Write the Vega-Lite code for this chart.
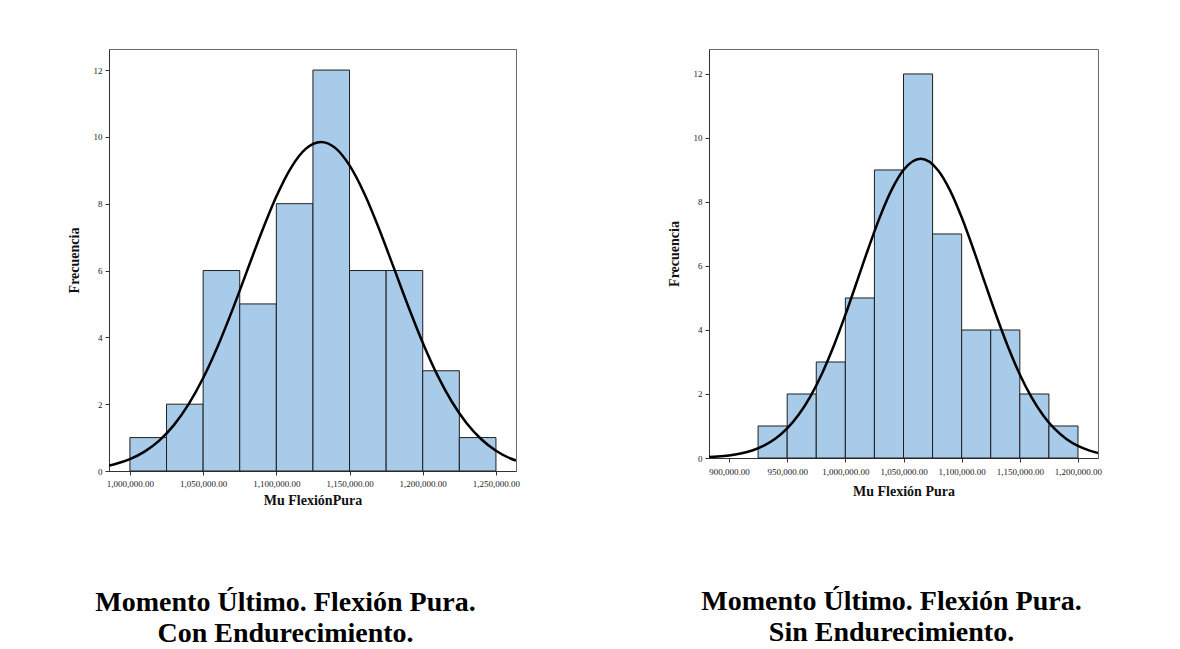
{
  "$schema": "https://vega.github.io/schema/vega-lite/v6.json",
  "background": "white",
  "padding": {"left": 66, "top": 48, "right": 0, "bottom": 0},
  "spacing": 145,
  "datasets": {
    "leftBars": [
      {"bin_start": 1000000, "bin_end": 1025000, "count": 1},
      {"bin_start": 1025000, "bin_end": 1050000, "count": 2},
      {"bin_start": 1050000, "bin_end": 1075000, "count": 6},
      {"bin_start": 1075000, "bin_end": 1100000, "count": 5},
      {"bin_start": 1100000, "bin_end": 1125000, "count": 8},
      {"bin_start": 1125000, "bin_end": 1150000, "count": 12},
      {"bin_start": 1150000, "bin_end": 1175000, "count": 6},
      {"bin_start": 1175000, "bin_end": 1200000, "count": 6},
      {"bin_start": 1200000, "bin_end": 1225000, "count": 3},
      {"bin_start": 1225000, "bin_end": 1250000, "count": 1}
    ],
    "leftCurve": [
      {"x": 985700, "y": 0.165}, {"x": 990000, "y": 0.21}, {"x": 1000000, "y": 0.355},
      {"x": 1010000, "y": 0.58}, {"x": 1020000, "y": 0.91}, {"x": 1030000, "y": 1.374},
      {"x": 1040000, "y": 1.994}, {"x": 1050000, "y": 2.783}, {"x": 1060000, "y": 3.736},
      {"x": 1070000, "y": 4.823}, {"x": 1080000, "y": 5.99}, {"x": 1090000, "y": 7.153},
      {"x": 1100000, "y": 8.215}, {"x": 1110000, "y": 9.075}, {"x": 1120000, "y": 9.64},
      {"x": 1130500, "y": 9.85}, {"x": 1140000, "y": 9.678}, {"x": 1150000, "y": 9.146},
      {"x": 1160000, "y": 8.313}, {"x": 1170000, "y": 7.265}, {"x": 1180000, "y": 6.108},
      {"x": 1190000, "y": 4.938}, {"x": 1200000, "y": 3.84}, {"x": 1210000, "y": 2.871},
      {"x": 1220000, "y": 2.065}, {"x": 1230000, "y": 1.428}, {"x": 1240000, "y": 0.95},
      {"x": 1250000, "y": 0.608}, {"x": 1260000, "y": 0.374}, {"x": 1263700, "y": 0.309}
    ],
    "rightBars": [
      {"bin_start": 925000, "bin_end": 950000, "count": 1},
      {"bin_start": 950000, "bin_end": 975000, "count": 2},
      {"bin_start": 975000, "bin_end": 1000000, "count": 3},
      {"bin_start": 1000000, "bin_end": 1025000, "count": 5},
      {"bin_start": 1025000, "bin_end": 1050000, "count": 9},
      {"bin_start": 1050000, "bin_end": 1075000, "count": 12},
      {"bin_start": 1075000, "bin_end": 1100000, "count": 7},
      {"bin_start": 1100000, "bin_end": 1125000, "count": 4},
      {"bin_start": 1125000, "bin_end": 1150000, "count": 4},
      {"bin_start": 1150000, "bin_end": 1175000, "count": 2},
      {"bin_start": 1175000, "bin_end": 1200000, "count": 1}
    ],
    "rightCurve": [
      {"x": 882800, "y": 0.028}, {"x": 890000, "y": 0.044}, {"x": 900000, "y": 0.079},
      {"x": 910000, "y": 0.139}, {"x": 920000, "y": 0.235}, {"x": 930000, "y": 0.384},
      {"x": 940000, "y": 0.606}, {"x": 950000, "y": 0.922}, {"x": 960000, "y": 1.357},
      {"x": 970000, "y": 1.927}, {"x": 980000, "y": 2.642}, {"x": 990000, "y": 3.498},
      {"x": 1000000, "y": 4.47}, {"x": 1010000, "y": 5.516}, {"x": 1020000, "y": 6.571},
      {"x": 1030000, "y": 7.558}, {"x": 1040000, "y": 8.392}, {"x": 1050000, "y": 8.997},
      {"x": 1064800, "y": 9.35}, {"x": 1080000, "y": 8.978},
      {"x": 1090000, "y": 8.363}, {"x": 1100000, "y": 7.521}, {"x": 1110000, "y": 6.53},
      {"x": 1120000, "y": 5.473}, {"x": 1130000, "y": 4.43}, {"x": 1140000, "y": 3.461},
      {"x": 1150000, "y": 2.611}, {"x": 1160000, "y": 1.902}, {"x": 1170000, "y": 1.337},
      {"x": 1180000, "y": 0.908}, {"x": 1190000, "y": 0.595}, {"x": 1200000, "y": 0.377},
      {"x": 1210000, "y": 0.23}, {"x": 1217200, "y": 0.158}
    ]
  },
  "config": {
    "view": {"stroke": "#6a6a6a", "strokeWidth": 1},
    "axis": {
      "labelFont": "Liberation Serif",
      "labelFontSize": 9,
      "labelColor": "#222222",
      "titleFont": "Liberation Serif",
      "titleFontSize": 14,
      "titleFontWeight": "bold",
      "titleColor": "#111111",
      "tickColor": "#333333",
      "tickSize": 4,
      "domainColor": "#333333",
      "grid": false
    },
    "title": {
      "font": "Liberation Serif",
      "fontSize": 28,
      "fontWeight": "bold",
      "color": "#000000",
      "lineHeight": 31
    }
  },
  "hconcat": [
    {
      "title": {"text": ["Momento Último. Flexión Pura.", "Con Endurecimiento."], "orient": "bottom", "anchor": "middle", "offset": 82, "dx": -27},
      "width": 407,
      "height": 422,
      "layer": [
        {
          "data": {"name": "leftBars"},
          "mark": {"type": "rect", "fill": "#a9cbea", "stroke": "#1e1e1e", "strokeWidth": 1},
          "encoding": {
            "x": {"field": "bin_start", "type": "quantitative",
                  "scale": {"domain": [985700, 1263700], "nice": false, "zero": false},
                  "axis": {"title": "Mu FlexiónPura", "values": [1000000, 1050000, 1100000, 1150000, 1200000, 1250000], "format": ",.2f", "labelPadding": 4, "titlePadding": 5}},
            "x2": {"field": "bin_end"},
            "y": {"field": "count", "type": "quantitative",
                  "scale": {"domain": [0, 12.63], "nice": false},
                  "axis": {"title": "Frecuencia", "values": [0, 2, 4, 6, 8, 10, 12], "format": "d", "labelPadding": 3, "titlePadding": 12}},
            "y2": {"datum": 0}
          }
        },
        {
          "data": {"name": "leftCurve"},
          "mark": {"type": "line", "interpolate": "monotone", "stroke": "#000000", "strokeWidth": 2.5, "clip": true},
          "encoding": {
            "x": {"field": "x", "type": "quantitative"},
            "y": {"field": "y", "type": "quantitative"}
          }
        }
      ]
    },
    {
      "title": {"text": ["Momento Último. Flexión Pura.", "Sin Endurecimiento."], "orient": "bottom", "anchor": "middle", "offset": 90, "dx": -12},
      "width": 389,
      "height": 409,
      "layer": [
        {
          "data": {"name": "rightBars"},
          "mark": {"type": "rect", "fill": "#a9cbea", "stroke": "#1e1e1e", "strokeWidth": 1},
          "encoding": {
            "x": {"field": "bin_start", "type": "quantitative",
                  "scale": {"domain": [882800, 1217200], "nice": false, "zero": false},
                  "axis": {"title": "Mu Flexión Pura", "values": [900000, 950000, 1000000, 1050000, 1100000, 1150000, 1200000], "format": ",.2f", "labelPadding": 5, "titlePadding": 8}},
            "x2": {"field": "bin_end"},
            "y": {"field": "count", "type": "quantitative",
                  "scale": {"domain": [0, 12.78], "nice": false},
                  "axis": {"title": "Frecuencia", "values": [0, 2, 4, 6, 8, 10, 12], "format": "d", "labelPadding": 3, "titlePadding": 12}},
            "y2": {"datum": 0}
          }
        },
        {
          "data": {"name": "rightCurve"},
          "mark": {"type": "line", "interpolate": "monotone", "stroke": "#000000", "strokeWidth": 2.5, "clip": true},
          "encoding": {
            "x": {"field": "x", "type": "quantitative"},
            "y": {"field": "y", "type": "quantitative"}
          }
        }
      ]
    }
  ]
}
